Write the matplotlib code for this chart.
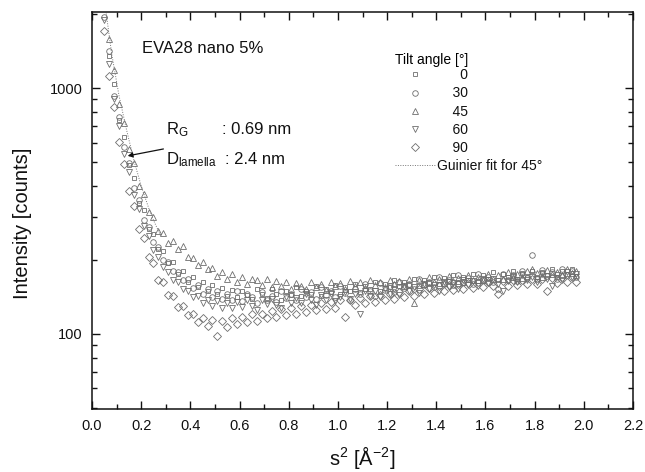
import matplotlib
matplotlib.use("Agg")
import matplotlib.pyplot as plt
from matplotlib.ticker import LogLocator, MultipleLocator, FixedLocator, NullFormatter, FixedFormatter
import numpy as np

plt.rcParams['font.family'] = ['Liberation Sans', 'DejaVu Sans']
plt.rcParams['mathtext.fontset'] = 'custom'
plt.rcParams['mathtext.rm'] = 'Liberation Sans'
plt.rcParams['mathtext.it'] = 'Liberation Sans'

# ---------------- data ----------------
S2 = [0.05, 0.07, 0.09, 0.11, 0.13, 0.15, 0.17, 0.19, 0.21, 0.23, 0.25, 0.27, 0.29, 0.31, 0.33, 0.35,
      0.37, 0.39, 0.41, 0.43, 0.45, 0.47, 0.49, 0.51, 0.53, 0.55, 0.57, 0.59, 0.61, 0.63, 0.65, 0.67,
      0.69, 0.71, 0.73, 0.75, 0.77, 0.79, 0.81, 0.83, 0.85, 0.87, 0.89, 0.91, 0.93, 0.95, 0.97, 0.99,
      1.01, 1.03, 1.05, 1.07, 1.09, 1.11, 1.13, 1.15, 1.17, 1.19, 1.21, 1.23, 1.25, 1.27, 1.29, 1.31,
      1.33, 1.35, 1.37, 1.39, 1.41, 1.43, 1.45, 1.47, 1.49, 1.51, 1.53, 1.55, 1.57, 1.59, 1.61, 1.63,
      1.65, 1.67, 1.69, 1.71, 1.73, 1.75, 1.77, 1.79, 1.81, 1.83, 1.85, 1.87, 1.89, 1.91, 1.93, 1.95,
      1.97]

I_0 = [2150, 1350, 1040, 745, 630, 485, 430, 340, 318, 268, 255, 221, 218, 194, 197, 176,
       181, 163, 170, 155, 162, 149, 158, 145, 154, 143, 151, 141, 150, 144, 139, 152,
       145, 140, 153, 146, 138, 150, 144, 155, 142, 150, 146, 157, 143, 152, 148, 158,
       146, 155, 150, 160, 148, 157, 153, 162, 150, 160, 155, 166, 156, 163, 158, 168,
       157, 166, 161, 171, 160, 169, 164, 174, 163, 171, 166, 176, 164, 173, 168, 178,
       166, 175, 170, 180, 168, 177, 171, 181, 170, 179, 173, 183, 171, 180, 175, 184,
       172]

I_30 = [1950, 1420, 930, 760, 575, 498, 392, 352, 290, 272, 236, 225, 199, 196, 180, 178,
        165, 168, 154, 158, 146, 152, 141, 149, 139, 146, 137, 150, 136, 145, 141, 134,
        148, 138, 143, 135, 150, 140, 146, 137, 152, 141, 148, 139, 155, 144, 150, 141,
        156, 147, 138, 153, 145, 159, 149, 143, 161, 151, 157, 148, 163, 154, 160, 152,
        167, 158, 163, 155, 170, 159, 166, 158, 173, 162, 169, 160, 175, 165, 171, 163,
        152, 176, 166, 173, 164, 180, 169, 210, 168, 182, 172, 178, 167, 184, 174, 180,
        170]

I_45 = [2450, 1580, 1180, 860, 720, 565, 495, 400, 372, 312, 298, 262, 257, 234, 238, 222,
        228, 205, 204, 190, 196, 183, 186, 172, 179, 168, 175, 163, 171, 160, 168, 166,
        158, 167, 155, 164, 157, 162, 153, 161, 156, 152, 163, 155, 160, 151, 162, 156,
        161, 153, 164, 157, 162, 154, 165, 158, 163, 155, 166, 159, 164, 157, 168, 134,
        165, 160, 170, 162, 167, 161, 172, 164, 169, 163, 174, 166, 171, 165, 176, 168,
        173, 167, 178, 170, 175, 169, 180, 183, 177, 171, 182, 175, 179, 173, 184, 177,
        181]

I_60 = [1900, 1250, 905, 700, 540, 455, 368, 322, 276, 250, 220, 206, 187, 179, 166, 162,
        152, 150, 141, 142, 134, 138, 130, 136, 128, 134, 127, 135, 129, 137, 130, 125,
        138, 132, 139, 131, 127, 141, 134, 140, 133, 145, 137, 131, 144, 138, 146, 136,
        141, 148, 139, 146, 121, 150, 143, 149, 141, 153, 146, 152, 144, 156, 149, 155,
        147, 159, 152, 158, 150, 162, 155, 161, 153, 165, 158, 164, 156, 168, 161, 167,
        159, 150, 164, 170, 162, 173, 166, 171, 163, 175, 168, 157, 174, 166, 178, 170,
        176]

I_90 = [1700, 1120, 840, 605, 492, 380, 333, 268, 246, 206, 195, 166, 162, 144, 143, 129,
        130, 119, 121, 112, 116, 108, 114, 98, 113, 107, 116, 110, 117, 112, 120, 113,
        121, 116, 124, 117, 126, 119, 128, 121, 130, 123, 131, 125, 133, 126, 135, 128,
        137, 117, 138, 131, 140, 133, 142, 135, 144, 137, 146, 139, 148, 141, 150, 143,
        152, 145, 154, 147, 156, 149, 158, 151, 160, 152, 161, 154, 162, 155, 163, 156,
        145, 164, 157, 165, 158, 166, 159, 167, 160, 168, 150, 169, 161, 170, 162, 171,
        163]

FIT_S2 = [0.05, 0.08, 0.11, 0.14, 0.17, 0.20, 0.24, 0.28]
FIT_I = [2300, 1380, 930, 680, 510, 400, 305, 250]

ANGLE_LABELS = ["0", "30", "45", "60", "90"]
SERIES = [I_0, I_30, I_45, I_60, I_90]
MARKERS = ["s", "o", "^", "v", "D"]
MSIZES = [3.2, 4.0, 4.3, 4.3, 3.6]

X_TICKS = [0.0, 0.2, 0.4, 0.6, 0.8, 1.0, 1.2, 1.4, 1.6, 1.8, 2.0, 2.2]

# ---------------- figure ----------------
W, H = 645, 472
fig = plt.figure(figsize=(W / 100, H / 100), dpi=100)
L, R, T, B = 92, 633, 12, 409
ax = fig.add_axes([L / W, 1 - B / H, (R - L) / W, (B - T) / H])

col = '#6e6e6e'
pads = {"0": "      ", "30": "    ", "45": "    ", "60": "    ", "90": "    "}
handles = []
for ys, m, ms, lab in zip(SERIES, MARKERS, MSIZES, ANGLE_LABELS):
    h, = ax.plot(S2, ys, linestyle='none', marker=m, markersize=ms,
                 markerfacecolor='none', markeredgecolor=col, markeredgewidth=0.6,
                 label=pads[lab] + lab)
    handles.append(h)
fit, = ax.plot(FIT_S2, FIT_I, linestyle=(0, (1, 1.5)), color='#777777', linewidth=0.7,
               label='Guinier fit for 45°')
handles.append(fit)

ax.set_yscale('log')
ax.set_xlim(0.0, 2.2)
ax.set_ylim(49.5, 2040)

ax.xaxis.set_major_locator(FixedLocator(X_TICKS))
ax.xaxis.set_minor_locator(MultipleLocator(0.1))
ax.set_xticklabels([f"{v:.1f}" for v in X_TICKS])
ax.yaxis.set_major_locator(FixedLocator([100, 1000]))
ax.yaxis.set_major_formatter(FixedFormatter(["100", "1000"]))
ax.yaxis.set_minor_locator(LogLocator(base=10, subs=np.arange(2, 10), numticks=20))
ax.yaxis.set_minor_formatter(NullFormatter())

ax.tick_params(which='both', direction='in', top=True, right=True, width=1.0, colors='#111111')
ax.tick_params(which='major', length=6, labelsize=10.5, pad=7)
ax.tick_params(which='minor', length=3.5)
for s in ax.spines.values():
    s.set_linewidth(1.1)
    s.set_color('#111111')

ax.set_ylabel('Intensity [counts]', fontsize=14.5, color='#111111')
ax.yaxis.set_label_coords(-0.111, 0.468)
ax.set_xlabel('s$^{2}$ [Å$^{-2}$]', fontsize=14.5, labelpad=8, color='#111111')

# annotations
ax.text(0.092, 0.909, 'EVA28 nano 5%', transform=ax.transAxes, fontsize=12,
        va='center', ha='left', color='#111111')
ax.text(0.137, 0.703, 'R$_{\\mathregular{G}}$', transform=ax.transAxes, fontsize=12,
        va='center', ha='left', color='#111111')
ax.text(0.240, 0.703, ': 0.69 nm', transform=ax.transAxes, fontsize=12,
        va='center', ha='left', color='#111111')
ax.text(0.137, 0.628, 'D$_{\\mathregular{lamella}}$', transform=ax.transAxes, fontsize=12,
        va='center', ha='left', color='#111111')
ax.text(0.245, 0.628, ': 2.4 nm', transform=ax.transAxes, fontsize=12,
        va='center', ha='left', color='#111111')
ax.annotate('', xy=(0.145, 530), xycoords='data',
            xytext=(0.132, 0.655), textcoords='axes fraction',
            arrowprops=dict(arrowstyle='-|>', color='#111111', lw=0.9,
                            mutation_scale=7, shrinkA=0, shrinkB=0))

leg = ax.legend(handles=handles, loc='upper left', bbox_to_anchor=(0.560, 0.897),
                frameon=False, fontsize=10, title='Tilt angle [°]', title_fontsize=10,
                alignment='left', borderpad=0, borderaxespad=0, handlelength=2.9,
                handletextpad=0.15, labelspacing=0.3, numpoints=1)
leg._legend_box.sep = 1
for t in leg.get_texts():
    t.set_color('#111111')

fig.savefig('out.png', dpi=100)
